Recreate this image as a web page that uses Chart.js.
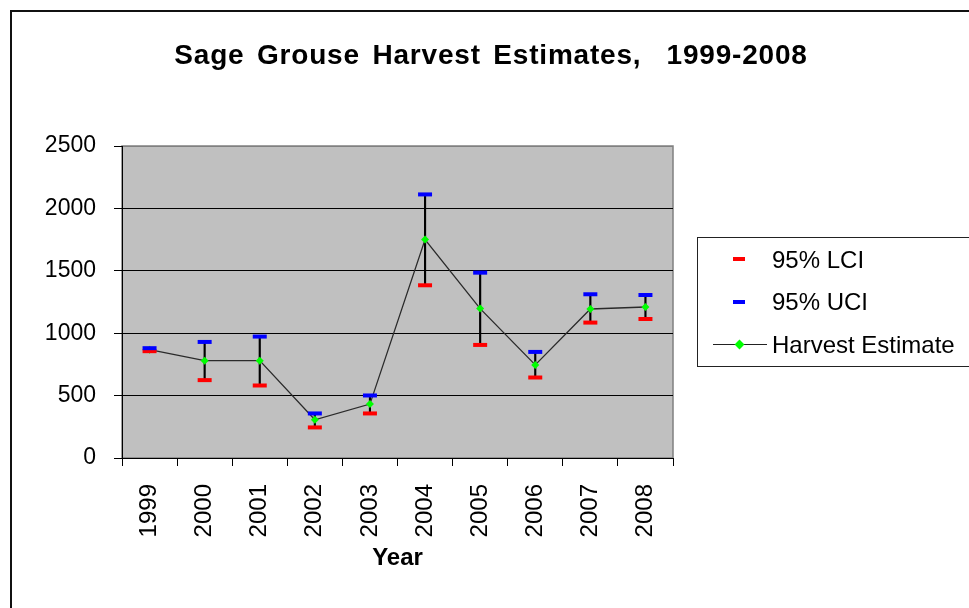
<!DOCTYPE html>
<html>
<head>
<meta charset="utf-8">
<script src="https://cdn.jsdelivr.net/npm/chart.js@4"></script>
<style>
  html, body { margin: 0; padding: 0; background: #fff; overflow: hidden; }
  #wrap { position: relative; width: 969px; height: 608px; overflow: hidden; font-family: Arial, "Liberation Sans", sans-serif; }
  #chart { position: absolute; left: 0; top: 0; }
  #frame { position: absolute; left: 10px; top: 10px; width: 990px; height: 640px; border: 2px solid #111; box-sizing: border-box; pointer-events: none; }
  #title { position: absolute; left: 0; top: 40px; width: 982px; text-align: center; font-weight: bold; font-size: 28px; line-height: 30px; white-space: pre; word-spacing: 4px; letter-spacing: 0.8px; color: #000; }
  #legend { position: absolute; left: 697px; top: 237px; width: 320px; height: 130px; border: 1px solid #222; box-sizing: border-box; }
  .lg-text { position: absolute; left: 772px; font-size: 24px; line-height: 27px; color: #000; white-space: pre; }
  .dash { position: absolute; left: 733px; width: 12px; height: 4px; }
  .lg-line { position: absolute; left: 713px; width: 54px; height: 1px; background: #222; }
  .lg-diamond { position: absolute; width: 7px; height: 7px; background: #00ff00; transform: rotate(45deg); }
</style>
</head>
<body>
<div id="wrap">
  <canvas id="chart" width="969" height="608"></canvas>
  <div id="frame"></div>
  <div id="title">Sage Grouse Harvest Estimates,  1999-2008</div>
  <div id="legend"></div>
  <div class="dash" style="top:257px;background:#ff0000"></div>
  <div class="lg-text" style="top:246px">95% LCI</div>
  <div class="dash" style="top:300px;background:#0000ff"></div>
  <div class="lg-text" style="top:288px">95% UCI</div>
  <div class="lg-line" style="top:344px"></div>
  <div class="lg-diamond" style="left:736px;top:341px"></div>
  <div class="lg-text" style="top:331px">Harvest Estimate</div>
</div>
<script>
  // ---- data ----
  var years = ["1999", "2000", "2001", "2002", "2003", "2004", "2005", "2006", "2007", "2008"];
  var harvest = [868, 780, 780, 306, 432, 1750, 1197, 746, 1194, 1210];
  var lci = [856, 624, 581, 245, 357, 1384, 906, 645, 1085, 1114];
  var uci = [880, 930, 973, 357, 501, 2112, 1485, 850, 1312, 1306];
  var yTicks = [0, 500, 1000, 1500, 2000, 2500];

  // gray plot background with a gray frame (axes draw over it in black)
  var plotBg = {
    id: "plotBg",
    beforeDraw: function (chart) {
      var a = chart.chartArea;
      var ctx = chart.ctx;
      ctx.save();
      ctx.fillStyle = "#c0c0c0";
      ctx.fillRect(a.left, a.top, a.right - a.left, a.bottom - a.top);
      ctx.strokeStyle = "#808080";
      ctx.lineWidth = 1.5;
      ctx.strokeRect(a.left, a.top, a.right - a.left, a.bottom - a.top);
      ctx.restore();
    }
  };

  var font = "Arial, 'Liberation Sans', sans-serif";

  new Chart(document.getElementById("chart"), {
    data: {
      labels: years,
      datasets: [
        {
          type: "line",
          label: "95% UCI",
          data: uci,
          showLine: false,
          pointStyle: "line",
          pointRadius: 7,
          pointBorderWidth: 4,
          pointBorderColor: "#0000ff",
          pointBackgroundColor: "#0000ff",
          order: 0
        },
        {
          type: "line",
          label: "95% LCI",
          data: lci,
          showLine: false,
          pointStyle: "line",
          pointRadius: 7,
          pointBorderWidth: 4,
          pointBorderColor: "#ff0000",
          pointBackgroundColor: "#ff0000",
          order: 1
        },
        {
          type: "line",
          label: "Harvest Estimate",
          data: harvest,
          borderColor: "#2a2a2a",
          borderWidth: 1.3,
          tension: 0,
          pointStyle: "rectRot",
          pointRadius: 4,
          pointBorderWidth: 0,
          pointBackgroundColor: "#00ff00",
          order: 2
        },
        {
          // error bars: LCI..UCI span per year
          type: "bar",
          label: "range",
          data: years.map(function (_, i) { return [lci[i], uci[i]]; }),
          backgroundColor: "#000",
          borderWidth: 0,
          barThickness: 1.5,
          order: 3
        }
      ]
    },
    options: {
      responsive: false,
      animation: false,
      devicePixelRatio: 1,
      layout: { padding: { top: 146, right: 296, bottom: 0, left: 0 } },
      plugins: {
        legend: { display: false },
        title: { display: false },
        tooltip: { enabled: false }
      },
      scales: {
        x: {
          type: "category",
          offset: true,
          grid: { offset: true, drawOnChartArea: false, drawTicks: true, tickLength: 8, color: "#000", lineWidth: 1 },
          border: { display: true, color: "#000", width: 1 },
          ticks: { color: "#000", font: { family: font, size: 24 }, minRotation: 90, maxRotation: 90, padding: 18, autoSkip: false },
          title: { display: true, text: "Year", color: "#000", font: { family: font, size: 24, weight: "bold" }, padding: { top: 0, bottom: 35 } },
          afterFit: function (s) { s.height = 150; }
        },
        y: {
          min: 0,
          max: 2500,
          afterBuildTicks: function (s) { s.ticks = yTicks.map(function (v) { return { value: v }; }); },
          grid: {
            color: function (c) { return c.tick && c.tick.value === 2500 ? "#808080" : "#000"; },
            tickColor: "#000",
            tickLength: 8,
            lineWidth: 1
          },
          border: { display: true, color: "#000", width: 1 },
          ticks: { color: "#000", font: { family: font, size: 23 }, padding: 18, callback: function (v) { return String(v); } },
          afterFit: function (s) { s.width = 122; }
        }
      }
    },
    plugins: [plotBg]
  });
</script>
</body>
</html>
